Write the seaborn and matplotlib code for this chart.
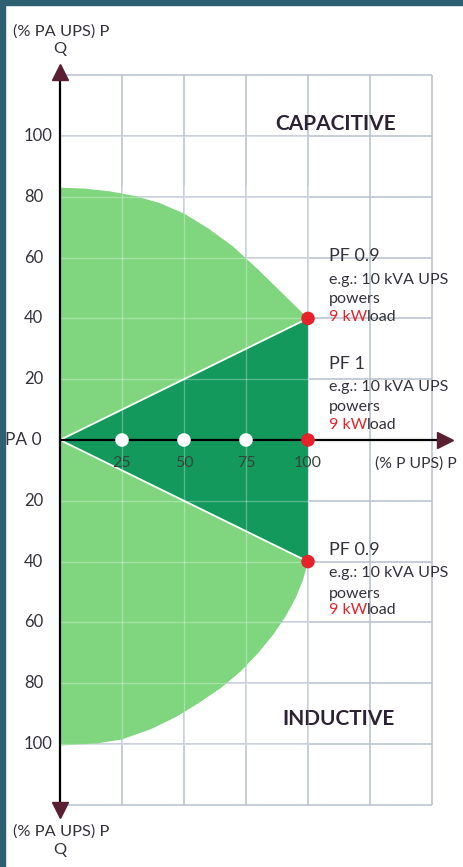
"""
plot.py
Diagramme P/Q d'une ASI : zones capacitive / inductive,
facteur de puissance 0.9 et 1.
"""

import numpy as np
import pandas as pd
import matplotlib
matplotlib.use("Agg")
import matplotlib.pyplot as plt
from matplotlib.patches import Rectangle
import seaborn as sns

# ---------------------------------------------------------------------------
# DONNÉES
# ---------------------------------------------------------------------------

# grille
grid_x = [25, 50, 75, 100, 125, 150]
grid_y = [-120, -100, -80, -60, -40, -20, 0, 20, 40, 60, 80, 100, 120]

# graduations
xtick_values = [25, 50, 75, 100]
xtick_labels = ["25", "50", "75", "100"]
ytick_values = [100, 80, 60, 40, 20, -20, -40, -60, -80, -100]
ytick_labels = ["100", "80", "60", "40", "20", "20", "40", "60", "80", "100"]

# contour de la zone claire (arc haut puis arc bas)
upper_arc_x = [0, 10, 20, 30, 40, 50, 60, 70, 80, 90, 95, 100]
upper_arc_y = [83, 82.7, 81.8, 80.3, 78, 74.5, 69.5, 63.5, 56, 48, 44, 40]
lower_arc_x = [100, 98, 95, 91, 86, 80, 73, 65, 56, 47, 37, 25, 15, 5, 0]
lower_arc_y = [-40, -46, -52, -58, -64, -70, -76, -81.5, -86.5, -91, -95,
               -98.5, -99.8, -100.3, -100.5]

# triangle foncé (PF 0.9 -> PF 1 -> PF 0.9)
tri_x = [0, 100, 100]
tri_y = [0, 40, -40]

# points
white_x = [25, 50, 75]
white_y = [0, 0, 0]
red_x = [100, 100, 100]
red_y = [40, 0, -40]

# annotations
pf_titles = ["PF 0.9", "PF 1", "PF 0.9"]
pf_title_y = [60.5, 25.0, -36.2]
eg_y = [52.6, 17.4, -43.8]
powers_y = [46.4, 10.9, -50.7]
load_y = [40.5, 4.9, -55.9]

# ---------------------------------------------------------------------------
# STYLE
# ---------------------------------------------------------------------------

LIGHT_GREEN = "#7fd67f"
DARK_GREEN = "#12995b"
RED = "#e5232c"
GRID = "#b8c0cd"
TEXT = "#35323c"
MAROON = "#5b1f33"
TEAL = "#2d6070"

sns.set_theme(style="white")
plt.rcParams["font.family"] = ["Lato", "DejaVu Sans"]

W, H = 464, 867
fig = plt.figure(figsize=(W / 100, H / 100), dpi=100, facecolor="white")
ax = fig.add_axes([0, 0, 1, 1])
ax.set_facecolor("white")

# 60 px -> x=0 ; 2.48 px par unité ; 440 px -> y=0 ; 3.04 px par unité
ax.set_xlim(-60 / 2.48, (W - 60) / 2.48)
ax.set_ylim(-(H - 440) / 3.04, 440 / 3.04)
ax.axis("off")

# bordure sarcelle (haut et gauche)
fig.patches.append(Rectangle((0, 0), 5 / W, 1, transform=fig.transFigure,
                             color=TEAL, zorder=0))
fig.patches.append(Rectangle((0, 1 - 5 / H), 1, 5 / H, transform=fig.transFigure,
                             color=TEAL, zorder=0))

# grille
ax.vlines(grid_x, min(grid_y), max(grid_y), color=GRID, lw=1.1, zorder=1)
ax.hlines(grid_y, 0, max(grid_x), color=GRID, lw=1.1, zorder=1)

# zones vertes
ax.fill(upper_arc_x + lower_arc_x, upper_arc_y + lower_arc_y,
        color=LIGHT_GREEN, lw=0, zorder=2)
ax.fill(tri_x, tri_y, color=DARK_GREEN, lw=0, zorder=3)

# grille visible à travers le vert
ax.vlines(grid_x[:4], -100, 84, color="white", lw=1.0, alpha=0.3, zorder=4)
ax.hlines(grid_y[1:-1], 0, 100, color="white", lw=1.0, alpha=0.3, zorder=4)

# séparations blanches
ax.plot([tri_x[0], tri_x[1]], [tri_y[0], tri_y[1]], color="white", lw=1.3, zorder=5)
ax.plot([tri_x[0], tri_x[2]], [tri_y[0], tri_y[2]], color="white", lw=1.3, zorder=5)

# axes + flèches
ax.plot([0, 0], [-121, 121], color="black", lw=1.6, zorder=6)
ax.plot([0, 153], [0, 0], color="black", lw=1.6, zorder=6)
ax.plot([0], [120.9], marker="^", ms=11, color=MAROON, zorder=7)
ax.plot([0], [-121.7], marker="v", ms=11, color=MAROON, zorder=7)
ax.plot([155.2], [0], marker=">", ms=11, color=MAROON, zorder=7)

# points
pts = pd.DataFrame({"x": white_x + red_x, "y": white_y + red_y,
                    "kind": ["w"] * len(white_x) + ["r"] * len(red_x)})
sns.scatterplot(data=pts, x="x", y="y", hue="kind",
                palette={"w": "white", "r": RED}, s=95, linewidth=0,
                legend=False, ax=ax, zorder=8)

# graduations
for v, lab in zip(xtick_values, xtick_labels):
    ax.text(v, -7.6, lab, ha="center", va="center", fontsize=11.5,
            color="#34473d", zorder=9)
ax.text(143.5, -7.6, "(% P UPS) P", ha="center", va="center",
        fontsize=11.3, color=TEXT, zorder=9)

for v, lab in zip(ytick_values, ytick_labels):
    ax.text(-14.5, v, lab, ha="left", va="center", fontsize=12, color=TEXT)
ax.text(-22.2, 0, "PA 0", ha="left", va="center", fontsize=12.5, color=TEXT)

# titres d'axes
ax.text(0.4, 134.5, "(% PA UPS) P", ha="center", va="center", fontsize=11.8, color=TEXT)
ax.text(0, 128.6, "Q", ha="center", va="center", fontsize=11.8, color=TEXT)
ax.text(0.4, -128.9, "(% PA UPS) P", ha="center", va="center", fontsize=11.8, color=TEXT)
ax.text(0, -134.9, "Q", ha="center", va="center", fontsize=11.8, color=TEXT)

# zones
ax.text(111.3, 103.8, "CAPACITIVE", ha="center", va="center", fontsize=15,
        fontweight="bold", color="#2b2333")
ax.text(112.3, -91.8, "INDUCTIVE", ha="center", va="center", fontsize=15,
        fontweight="bold", color="#2b2333")

# annotations PF
x0 = 108.5
for title, ty, ey, py, ly in zip(pf_titles, pf_title_y, eg_y, powers_y, load_y):
    ax.text(x0, ty, title, ha="left", va="center", fontsize=13, color=TEXT, zorder=9)
    ax.text(x0, ey, "e.g.: 10 kVA UPS", ha="left", va="center", fontsize=11.5,
            color=TEXT, zorder=9)
    ax.text(x0, py, "powers", ha="left", va="center", fontsize=11.5, color=TEXT, zorder=9)
    red_txt = ax.text(x0, ly, "9 kW", ha="left", va="center", fontsize=11.5,
                      color=RED, zorder=9)
    ax.annotate("load", xy=(1, 0), xycoords=red_txt, ha="left", va="bottom",
                fontsize=11.5, color=TEXT, zorder=9)

fig.savefig("out.png", dpi=100, facecolor="white")
